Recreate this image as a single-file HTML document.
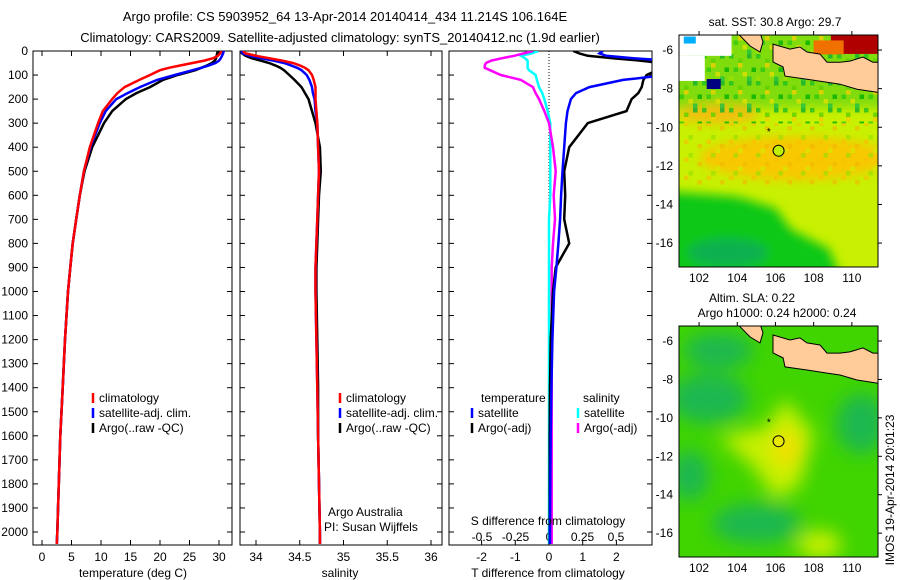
<!DOCTYPE html>
<html><head><meta charset="utf-8"><style>
body{margin:0;background:#fff;width:900px;height:580px;overflow:hidden}
svg{display:block;font-family:"Liberation Sans",sans-serif}
</style></head><body>
<svg id="fig" width="900" height="580" viewBox="0 0 900 580">
<defs>
<filter id="blur1" x="-50%" y="-50%" width="200%" height="200%"><feGaussianBlur stdDeviation="5"/></filter>
<filter id="blur2" x="-50%" y="-50%" width="200%" height="200%"><feGaussianBlur stdDeviation="9"/></filter>
<pattern id="mottle" width="27" height="27" patternUnits="userSpaceOnUse">
<rect x="0" y="0" width="4.5" height="4.5" fill="#20c020"/><rect x="9" y="4.5" width="4.5" height="4.5" fill="#60d000"/>
<rect x="18" y="0" width="4.5" height="4.5" fill="#10b030"/><rect x="4.5" y="13.5" width="4.5" height="4.5" fill="#30c810"/>
<rect x="22.5" y="13.5" width="4.5" height="4.5" fill="#00b000"/><rect x="13.5" y="18" width="4.5" height="4.5" fill="#e0e000"/>
<rect x="0" y="22.5" width="4.5" height="4.5" fill="#a0e000"/><rect x="18" y="22.5" width="4.5" height="4.5" fill="#20c040"/>
<rect x="9" y="9" width="4.5" height="4.5" fill="#f0d000"/>
</pattern>
<pattern id="mottle2" width="22.5" height="18" patternUnits="userSpaceOnUse">
<rect x="0" y="0" width="4.5" height="4.5" fill="#f0b800"/><rect x="13.5" y="9" width="4.5" height="4.5" fill="#90e000"/>
<rect x="9" y="13.5" width="4.5" height="4.5" fill="#f8c000"/><rect x="18" y="4.5" width="4.5" height="4.5" fill="#d0f000"/>
</pattern>
<clipPath id="c1"><rect x="33" y="51" width="199" height="494"/></clipPath>
<clipPath id="c2"><rect x="240" y="51" width="202" height="494"/></clipPath>
<clipPath id="c3"><rect x="449" y="51" width="203" height="494"/></clipPath>
<clipPath id="m1"><rect x="679" y="35" width="199" height="232"/></clipPath>
<clipPath id="m2"><rect x="679" y="326" width="199" height="231"/></clipPath>
</defs>
<g font-size="13" fill="#000" text-anchor="middle">
<text x="345" y="21">Argo profile: CS 5903952_64 13-Apr-2014 20140414_434 11.214S 106.164E</text>
<text x="340" y="42">Climatology: CARS2009. Satellite-adjusted climatology: synTS_20140412.nc (1.9d earlier)</text>
</g>
<g id="panels"></g>
<g id="maps"></g>
</svg>
<script>
// ---- data ----
const depths = [0,10,20,30,40,50,60,70,80,100,120,150,175,200,250,300,400,500,600,700,800,900,1000,1200,1400,1600,1800,2000,2050];
const tempClim = [30.4,30.2,29.8,29,27.5,25.5,23.5,21.5,20,18.3,16.5,14,12.8,11.9,10.3,9.5,8.1,7.1,6.4,5.8,5.2,4.8,4.4,3.9,3.5,3.1,2.85,2.6,2.5];
const tempSat = [30.8,30.7,30.5,30.3,30,29.4,28.3,27,25.5,22.5,19.5,16.6,14.5,12.6,10.8,9.8,8.2,7.1,6.4,5.8,5.2,4.8,4.4,3.9,3.5,3.1,2.85,2.6,2.5];
const tempArgo = [29.8,29.7,29.6,29.5,29.3,28.8,28,27,26,23,20.5,18.3,16,14.2,11.9,10.5,8.5,7.2,6.4,5.8,5.2,4.8,4.4,3.9,3.5,3.1,2.85,2.6,2.5];
const salClim = [33.85,33.88,34.0,34.15,34.3,34.42,34.5,34.56,34.6,34.64,34.66,34.68,34.68,34.68,34.69,34.7,34.71,34.72,34.71,34.7,34.69,34.68,34.68,34.69,34.7,34.71,34.72,34.73,34.73];
const salSat = [33.83,33.85,33.93,34.05,34.2,34.32,34.4,34.47,34.52,34.58,34.61,34.64,34.65,34.67,34.68,34.7,34.71,34.72,34.71,34.7,34.69,34.68,34.68,34.69,34.7,34.71,34.72,34.73,34.73];
const salArgo = [33.82,33.84,33.88,33.95,34.05,34.15,34.22,34.28,34.32,34.38,34.44,34.52,34.56,34.6,34.64,34.68,34.73,34.74,34.72,34.71,34.7,34.69,34.69,34.7,34.71,34.71,34.72,34.73,34.73];
const tDiffSat = [1.6,1.5,1.7,2.5,3.5,4,4.5,4.5,4.5,3.5,2.2,1.2,0.8,0.65,0.55,0.5,0.45,0.4,0.36,0.33,0.28,0.22,0.15,0.1,0.07,0.05,0.04,0.03,0.03];
const tDiffArgo = [0.72,0.9,1.15,1.9,2.7,3.3,3.6,3.5,3.2,2.9,2.8,2.75,2.65,2.45,2.3,1.15,0.6,0.45,0.48,0.45,0.6,0.2,0.12,0.05,0.03,0.02,0.02,0.02,0.02];
const sDiffSat = [-0.08,-0.13,-0.21,-0.18,-0.16,-0.16,-0.16,-0.16,-0.15,-0.1,-0.09,-0.075,-0.05,-0.035,-0.01,0.01,0.01,0.01,0.01,0.0,0.0,0.0,0.0,0.0,0.0,0.0,0.0,0.0,0.0];
const sDiffArgo = [-0.12,-0.19,-0.26,-0.35,-0.43,-0.47,-0.48,-0.48,-0.44,-0.36,-0.21,-0.12,-0.1,-0.075,-0.035,0.0,0.03,0.05,0.035,0.045,0.03,0.02,0.02,0.02,0.02,0.02,0.02,0.02,0.02];
const depthTicks = [0,100,200,300,400,500,600,700,800,900,1000,1100,1200,1300,1400,1500,1600,1700,1800,1900,2000];
const tempTicks = [0,5,10,15,20,25,30];
const salTicks = [34,34.5,35,35.5,36];
const tDiffTicks = [-2,-1,0,1,2];
const sDiffTicks = [-0.5,-0.25,0,0.25,0.5];
const lonTicks = [102,104,106,108,110];
const latTicks = [-6,-8,-10,-12,-14,-16];

const NS='http://www.w3.org/2000/svg';
function mk(tag, attrs, parent, txt){const e=document.createElementNS(NS,tag);for(const k in attrs)e.setAttribute(k,attrs[k]);if(txt!==undefined)e.textContent=txt;parent.appendChild(e);return e;}
const yD = d => 51 + d*0.2405;
const xT = v => 42 + v*5.9;
const xS = v => 256 + (v-34)*87.5;
const xTD = v => 549 + v*33.7;
const xSD = v => 549 + v*134;
const P = document.getElementById('panels');

function frame(x0,x1,name){
  const r=mk('rect',{x:x0,y:51,width:x1-x0,height:494,fill:'none',stroke:'#000','stroke-width':1},P);
  
  
  depthTicks.forEach(d=>{mk('line',{x1:x1,x2:x1-5,y1:yD(d),y2:yD(d),stroke:'#000'},P);});
}
function series(vals,xf,color,clip,name,w){
  const pts=vals.map((v,i)=>xf(v).toFixed(1)+','+yD(depths[i]).toFixed(1)).join(' ');
  const pl=mk('polyline',{points:pts,fill:'none',stroke:color,'stroke-width':w||2.5,'clip-path':'url(#'+clip+')'},P);
  
  
}
function xAxis(ticks,xf,labelY,name,tickTop){
  ticks.forEach(t=>{
    mk('line',{x1:xf(t),x2:xf(t),y1:545,y2:540,stroke:'#000'},P);
    if(tickTop) mk('line',{x1:xf(t),x2:xf(t),y1:51,y2:56,stroke:'#000'},P);
    const tx=mk('text',{x:xf(t),y:labelY,'font-size':12,'text-anchor':'middle'},P,String(t));
    
    
  });
}
depthTicks.forEach(d=>{
  mk('line',{x1:33,x2:38,y1:yD(d),y2:yD(d),stroke:'#000'},P);
  mk('line',{x1:240,x2:245,y1:yD(d),y2:yD(d),stroke:'#000'},P);
  mk('line',{x1:449,x2:454,y1:yD(d),y2:yD(d),stroke:'#000'},P);
  const t=mk('text',{x:28,y:yD(d)+4,'font-size':12,'text-anchor':'end'},P,String(d));
  
  
});
frame(33,232,'temperature-panel');
frame(240,442,'salinity-panel');
frame(449,652,'difference-panel');
xAxis(tempTicks,xT,561,'temperature-axis',true);
xAxis(salTicks,xS,561,'salinity-axis',true);
xAxis(tDiffTicks,xTD,561,'t-diff-axis',false);
sDiffTicks.forEach(t=>{
  const tx=mk('text',{x:xSD(t),y:541,'font-size':12,'text-anchor':'middle'},P,String(t));
  
  
});
mk('line',{x1:xTD(0),x2:xTD(0),y1:51,y2:545,stroke:'#000','stroke-dasharray':'1,2'},P);
series(tempArgo,xT,'#000','c1','temp-argo');
series(tempSat,xT,'#0000ff','c1','temp-satellite');
series(tempClim,xT,'#ff0000','c1','temp-climatology');
series(salArgo,xS,'#000','c2','sal-argo');
series(salSat,xS,'#0000ff','c2','sal-satellite');
series(salClim,xS,'#ff0000','c2','sal-climatology');
series(sDiffSat,xSD,'#00ffff','c3','s-diff-satellite');
series(sDiffArgo,xSD,'#ff00ff','c3','s-diff-argo');
series(tDiffArgo,xTD,'#000','c3','t-diff-argo');
series(tDiffSat,xTD,'#0000ff','c3','t-diff-satellite');
[['temperature (deg C)',133,577,'temperature-axis-title'],['salinity',340,577,'salinity-axis-title'],['T difference from climatology',548,577,'t-diff-axis-title'],['S difference from climatology',548,525,'s-diff-axis-title'],['Argo Australia',328,516,'credit-line-1'],['PI: Susan Wijffels',324,531,'credit-line-2']].forEach((a,i)=>{
  const t=mk('text',{x:a[1],y:a[2],'font-size':12,'text-anchor':i>=4?'start':'middle'},P,a[0]);
  
  
});
function leg(x,y,color,label,name){
  mk('line',{x1:x,x2:x,y1:y-9,y2:y+1,stroke:color,'stroke-width':2.5},P);
  const t=mk('text',{x:x+6,y:y,'font-size':12},P,label);
  
  
}
[[93,'#ff0000','climatology'],[93,'#0000ff','satellite-adj. clim.'],[93,'#000','Argo(..raw -QC)']].forEach((l,i)=>leg(l[0],402+i*15,l[1],l[2],'temp-legend-entry'));
[[340,'#ff0000','climatology'],[340,'#0000ff','satellite-adj. clim.'],[340,'#000','Argo(..raw -QC)']].forEach((l,i)=>leg(l[0],402+i*15,l[1],l[2],'sal-legend-entry'));
let lt=mk('text',{x:481,y:402,'font-size':12},P,'temperature');
lt=mk('text',{x:583,y:402,'font-size':12},P,'salinity');
leg(472,417,'#0000ff','satellite','diff-legend-entry');
leg(472,432,'#000','Argo(-adj)','diff-legend-entry');
leg(578,417,'#00ffff','satellite','diff-legend-entry');
leg(578,432,'#ff00ff','Argo(-adj)','diff-legend-entry');

// ---- maps ----
const M=document.getElementById('maps');
const java=[[105.87,-5.69],[106.76,-5.95],[107.28,-5.84],[107.65,-6.1],[108.33,-6.21],[108.7,-6.63],[109.38,-6.63],[109.9,-6.57],[110.58,-6.36],[111.1,-6.63],[111.4,-6.63],[111.4,-8.19],[111.32,-8.19],[110.27,-8.03],[109.38,-7.77],[108.7,-7.67],[107.65,-7.51],[106.5,-7.35],[106.4,-6.88],[105.87,-6.62]];
const sumatra=[[103.99,-5.1],[104.67,-5.79],[105.19,-6.1],[105.35,-5.58],[105.19,-5.1]];
function map(top,bot,clip,kind){
  const lx=v=>679+(v-100.95)*19.1;
  const ly=v=>top+(-5.22-v)*((bot-top)/12.02);
  const g=mk('g',{'clip-path':'url(#'+clip+')'},M);
  
  
  if(kind==='sst'){
    mk('rect',{x:679,y:top,width:199,height:bot-top,fill:'#c8f000'},g);
    const f=mk('g',{filter:'url(#blur1)'},g);
    mk('rect',{x:lx(100),y:ly(-4),width:260,height:ly(-9.0)-ly(-4),fill:'#80dc10'},f);
    mk('ellipse',{cx:lx(107),cy:ly(-11.6),rx:95,ry:22,fill:'#f8c800'},f);
    mk('ellipse',{cx:lx(103),cy:ly(-9.3),rx:40,ry:10,fill:'#f0c010'},f);
    mk('polygon',{points:[[100,-13.3],[104,-13.6],[106,-14.2],[106.8,-15.3],[108.8,-16.3],[109.5,-18],[100,-18]].map(p=>lx(p[0])+','+ly(p[1])).join(' '),fill:'#10c818'},f);
    mk('ellipse',{cx:lx(103.5),cy:ly(-16.5),rx:40,ry:14,fill:'#10b050'},f);
    mk('rect',{x:679,y:top,width:199,height:ly(-9.8)-top,fill:'url(#mottle)',opacity:0.8},g);
    mk('rect',{x:679,y:ly(-9.8),width:199,height:ly(-13)-ly(-9.8),fill:'url(#mottle2)',opacity:0.6},g);
    mk('rect',{x:lx(100.9),y:ly(-5.2),width:lx(103.7)-lx(100.9),height:ly(-6.3)-ly(-5.2),fill:'#ffffff'},g);
    mk('rect',{x:lx(100.9),y:ly(-6.3),width:lx(102.3)-lx(100.9),height:ly(-7.6)-ly(-6.3),fill:'#ffffff'},g);
    mk('rect',{x:lx(102.4),y:ly(-7.5),width:14,height:10,fill:'#000080'},g);
    mk('rect',{x:lx(108.9),y:ly(-5.2),width:lx(111.4)-lx(108.9),height:ly(-6.2)-ly(-5.2),fill:'#b00000'},g);
    mk('rect',{x:lx(108),y:ly(-5.5),width:30,height:14,fill:'#f07000'},g);
    mk('rect',{x:lx(101.2),y:ly(-5.3),width:12,height:7,fill:'#00b0ff'},g);
  } else {
    mk('rect',{x:679,y:top,width:199,height:bot-top,fill:'#40d400'},g);
    const f=mk('g',{filter:'url(#blur2)'},g);
    [[102.5,-9,40,25],[110.5,-10.3,25,30],[105,-15.5,45,20],[103,-6.5,35,18],[101.5,-13,20,25]].forEach(b=>mk('ellipse',{cx:lx(b[0]),cy:ly(b[1]),rx:b[2],ry:b[3],fill:'#1cb850'},f));
    mk('polygon',{points:[[106.5,-9],[108,-10.8],[107.3,-13.5],[106,-14.2],[104.8,-12.5],[103,-11],[105.5,-10.5]].map(p=>lx(p[0])+','+ly(p[1])).join(' '),fill:'#c8f000'},f);
    mk('ellipse',{cx:lx(106.6),cy:ly(-11.6),rx:14,ry:18,fill:'#f0e000'},f);
    mk('ellipse',{cx:lx(108.3),cy:ly(-16.6),rx:22,ry:14,fill:'#c8f000'},f);
  }
  [java,sumatra].forEach(poly=>mk('polygon',{points:poly.map(p=>lx(p[0]).toFixed(1)+','+ly(p[1]).toFixed(1)).join(' '),fill:'#ffcc99',stroke:'#000','stroke-width':1},g));
  const dot=mk('circle',{cx:lx(106.164),cy:ly(-11.214),r:5.5,fill:kind==='sst'?'#c0f000':'#e8e800',stroke:'#000','stroke-width':1},M);
  
  
  mk('text',{x:lx(105.65),y:ly(-10.4),'font-size':10,'text-anchor':'middle'},M,'*');
  const b=mk('rect',{x:679,y:top,width:199,height:bot-top,fill:'none',stroke:'#000'},M);
  
  
  lonTicks.forEach(v=>{
    mk('line',{x1:lx(v),x2:lx(v),y1:top,y2:top-4,stroke:'#000'},M);
    const t=mk('text',{x:lx(v),y:bot+15,'font-size':12,'text-anchor':'middle'},M,String(v));
    
    
  });
  latTicks.forEach(v=>{
    mk('line',{x1:878,x2:882,y1:ly(v),y2:ly(v),stroke:'#000'},M);
    const t=mk('text',{x:673,y:ly(v)+4,'font-size':12,'text-anchor':'end'},M,String(v));
    
    
  });
}
map(35,267,'m1','sst');
map(326,557,'m2','sla');
[['sat. SST: 30.8 Argo: 29.7',775,26,'sst-map-title'],['Altim. SLA: 0.22',752,302,'sla-map-title'],['Argo h1000: 0.24 h2000: 0.24',777,317,'sla-map-subtitle']].forEach(a=>{
  const t=mk('text',{x:a[1],y:a[2],'font-size':12,'text-anchor':'middle'},M,a[0]);
  
  
});
const st=mk('text',{x:0,y:0,'font-size':12,'text-anchor':'middle',transform:'translate(894,490) rotate(-90)'},M,'IMOS 19-Apr-2014 20:01:23');


</script>
</body></html>
